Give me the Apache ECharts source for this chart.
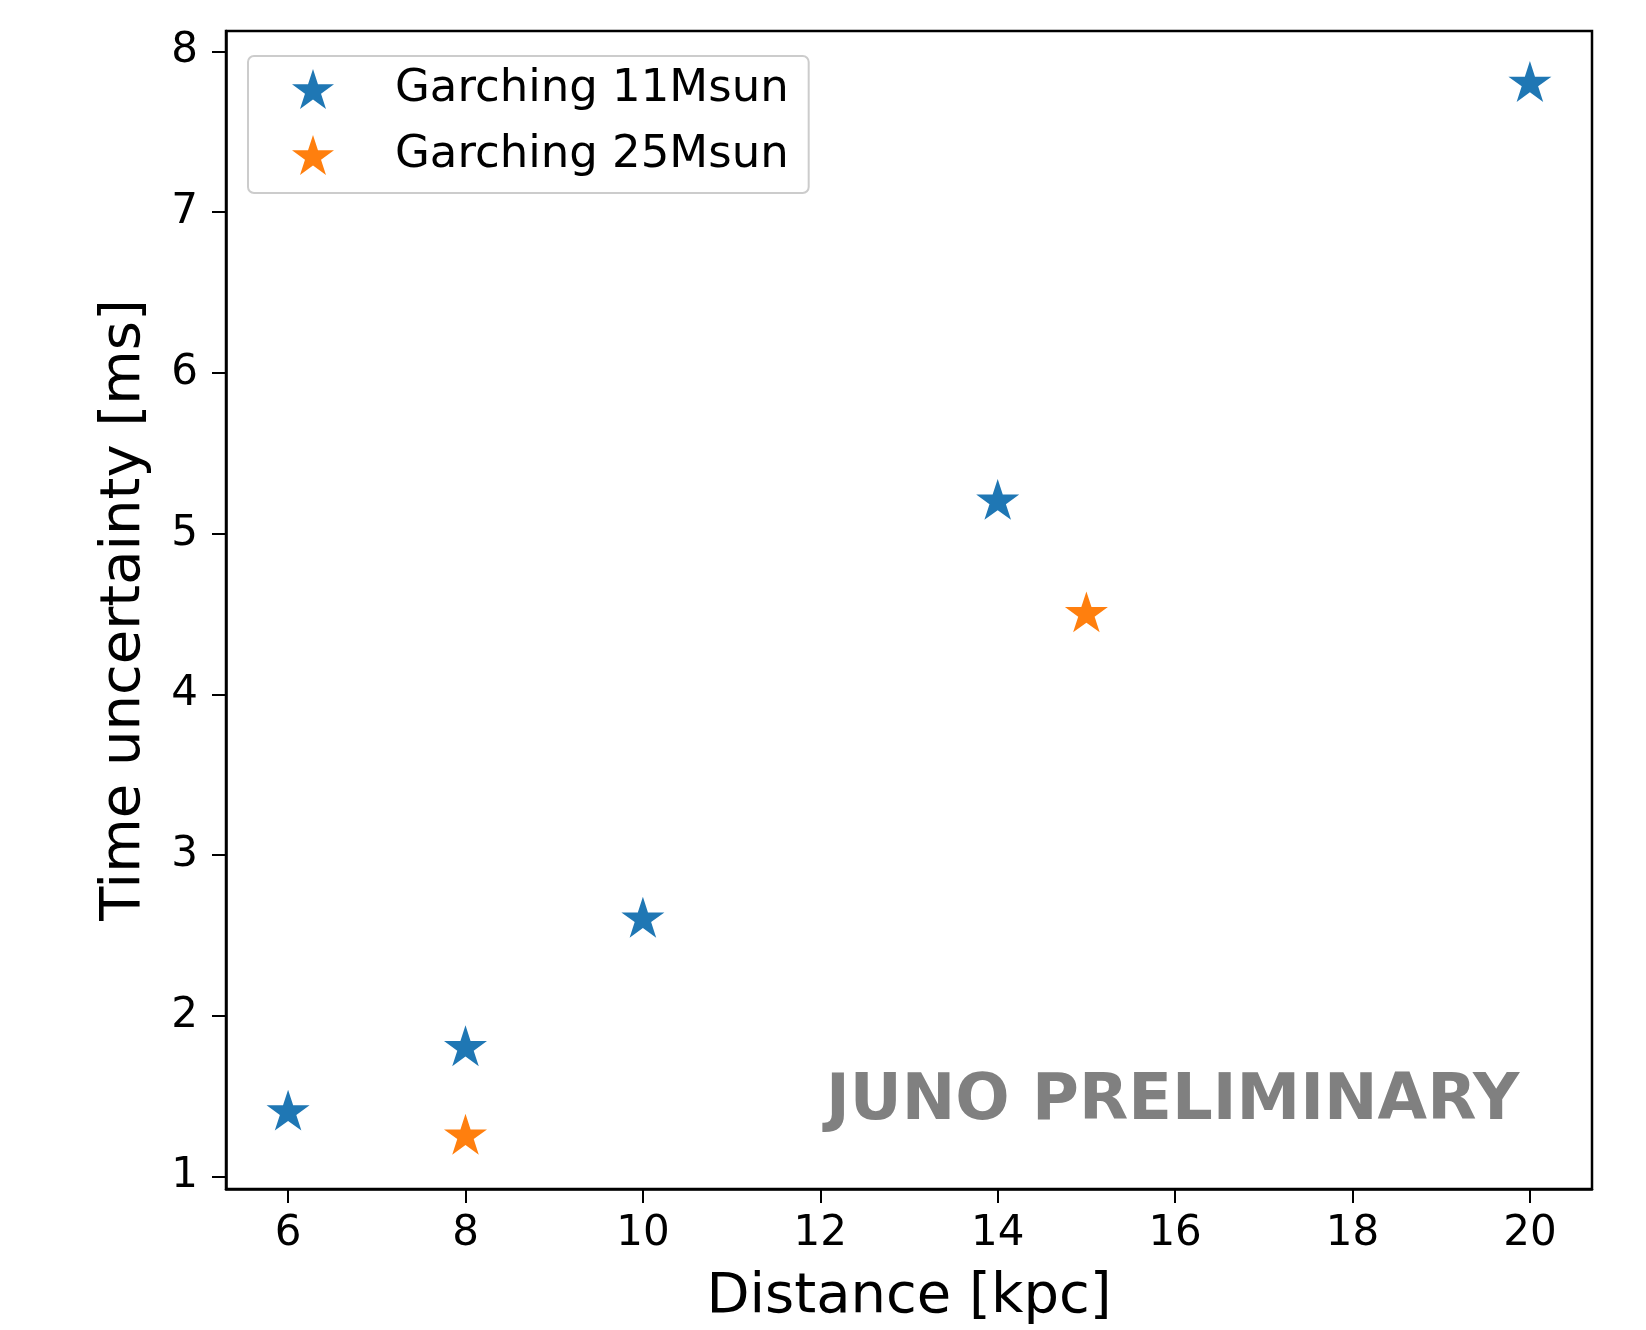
<!DOCTYPE html>
<html>
<head>
<meta charset="utf-8">
<script src="https://cdn.jsdelivr.net/npm/echarts@6/dist/echarts.min.js"></script>
<style>html,body{margin:0;padding:0;background:#fff;overflow:hidden;}#c{width:1646px;height:1330px;}</style>
</head>
<body>
<div id="c"></div>
<script>
var seriesNames = ['Garching 11Msun', 'Garching 25Msun'];
var dist11 = [6, 8, 10, 14, 20];
var time11 = [1.4, 1.8, 2.6, 5.2, 7.8];
var dist25 = [8, 15];
var time25 = [1.25, 4.5];
var xTicks = [6, 8, 10, 12, 14, 16, 18, 20];
var yTicks = [1, 2, 3, 4, 5, 6, 7, 8];
var xName = 'Distance [kpc]';
var yName = 'Time uncertainty [ms]';
var watermark = 'JUNO PRELIMINARY';

var STAR = 'path://M100 0 L122.45 69.1 L195.11 69.1 L136.33 111.8 L158.78 180.9 L100 138.2 L41.22 180.9 L63.67 111.8 L4.89 69.1 L77.55 69.1 Z';
var FONT = 'DejaVu Sans';

function pairs(xs, ys) { return xs.map(function (x, i) { return [x, ys[i]]; }); }

var chart = echarts.init(document.getElementById('c'), null, { renderer: 'canvas' });
chart.setOption({
  animation: false,
  backgroundColor: '#ffffff',
  grid: { left: 226, right: 54, top: 31, bottom: 125, show: true, borderColor: '#000', borderWidth: 2.5, backgroundColor: 'transparent' },
  xAxis: {
    type: 'value', min: 5.3, max: 20.7,
    name: xName, nameLocation: 'middle', nameGap: 80,
    nameTextStyle: { fontFamily: FONT, fontSize: 56, color: '#000' },
    axisLine: { show: true, lineStyle: { color: '#000', width: 2.5 } },
    axisTick: { show: true, length: 14, lineStyle: { color: '#000', width: 2 }, customValues: xTicks },
    axisLabel: { fontFamily: FONT, fontSize: 42, color: '#000', margin: 24, customValues: xTicks },
    splitLine: { show: false }
  },
  yAxis: {
    type: 'value', min: 0.9225, max: 8.1275,
    name: yName, nameLocation: 'middle', nameGap: 74, nameRotate: 90,
    nameTextStyle: { fontFamily: FONT, fontSize: 56, color: '#000' },
    axisLine: { show: true, lineStyle: { color: '#000', width: 2.5 } },
    axisTick: { show: true, length: 14, lineStyle: { color: '#000', width: 2 }, customValues: yTicks },
    axisLabel: { fontFamily: FONT, fontSize: 42, color: '#000', margin: 28, customValues: yTicks },
    splitLine: { show: false }
  },
  legend: {
    orient: 'vertical', left: 248, top: 56,
    padding: [10, 20, 15, 44], itemGap: 20,
    itemWidth: 42, itemHeight: 40,
    borderColor: '#cccccc', borderWidth: 2, borderRadius: 6,
    backgroundColor: 'rgba(255,255,255,0.8)',
    textStyle: { fontFamily: FONT, fontSize: 45, color: '#000', lineHeight: 46, padding: [0, 0, 0, 56] },
    data: [{ name: seriesNames[0], icon: STAR }, { name: seriesNames[1], icon: STAR }]
  },
  graphic: [{
    type: 'text', left: 826, top: 1070, z: 1,
    style: { text: watermark, font: 'bold 64px "DejaVu Sans"', fill: '#808080' }
  }],
  series: [
    { name: seriesNames[0], type: 'scatter', symbol: STAR, symbolKeepAspect: true, symbolSize: 43, symbolOffset: [0, '-5%'],
      itemStyle: { color: '#1f77b4', opacity: 1 }, data: pairs(dist11, time11), z: 3 },
    { name: seriesNames[1], type: 'scatter', symbol: STAR, symbolKeepAspect: true, symbolSize: 43, symbolOffset: [0, '-5%'],
      itemStyle: { color: '#ff7f0e', opacity: 1 }, data: pairs(dist25, time25), z: 3 }
  ]
});
</script>
</body>
</html>
